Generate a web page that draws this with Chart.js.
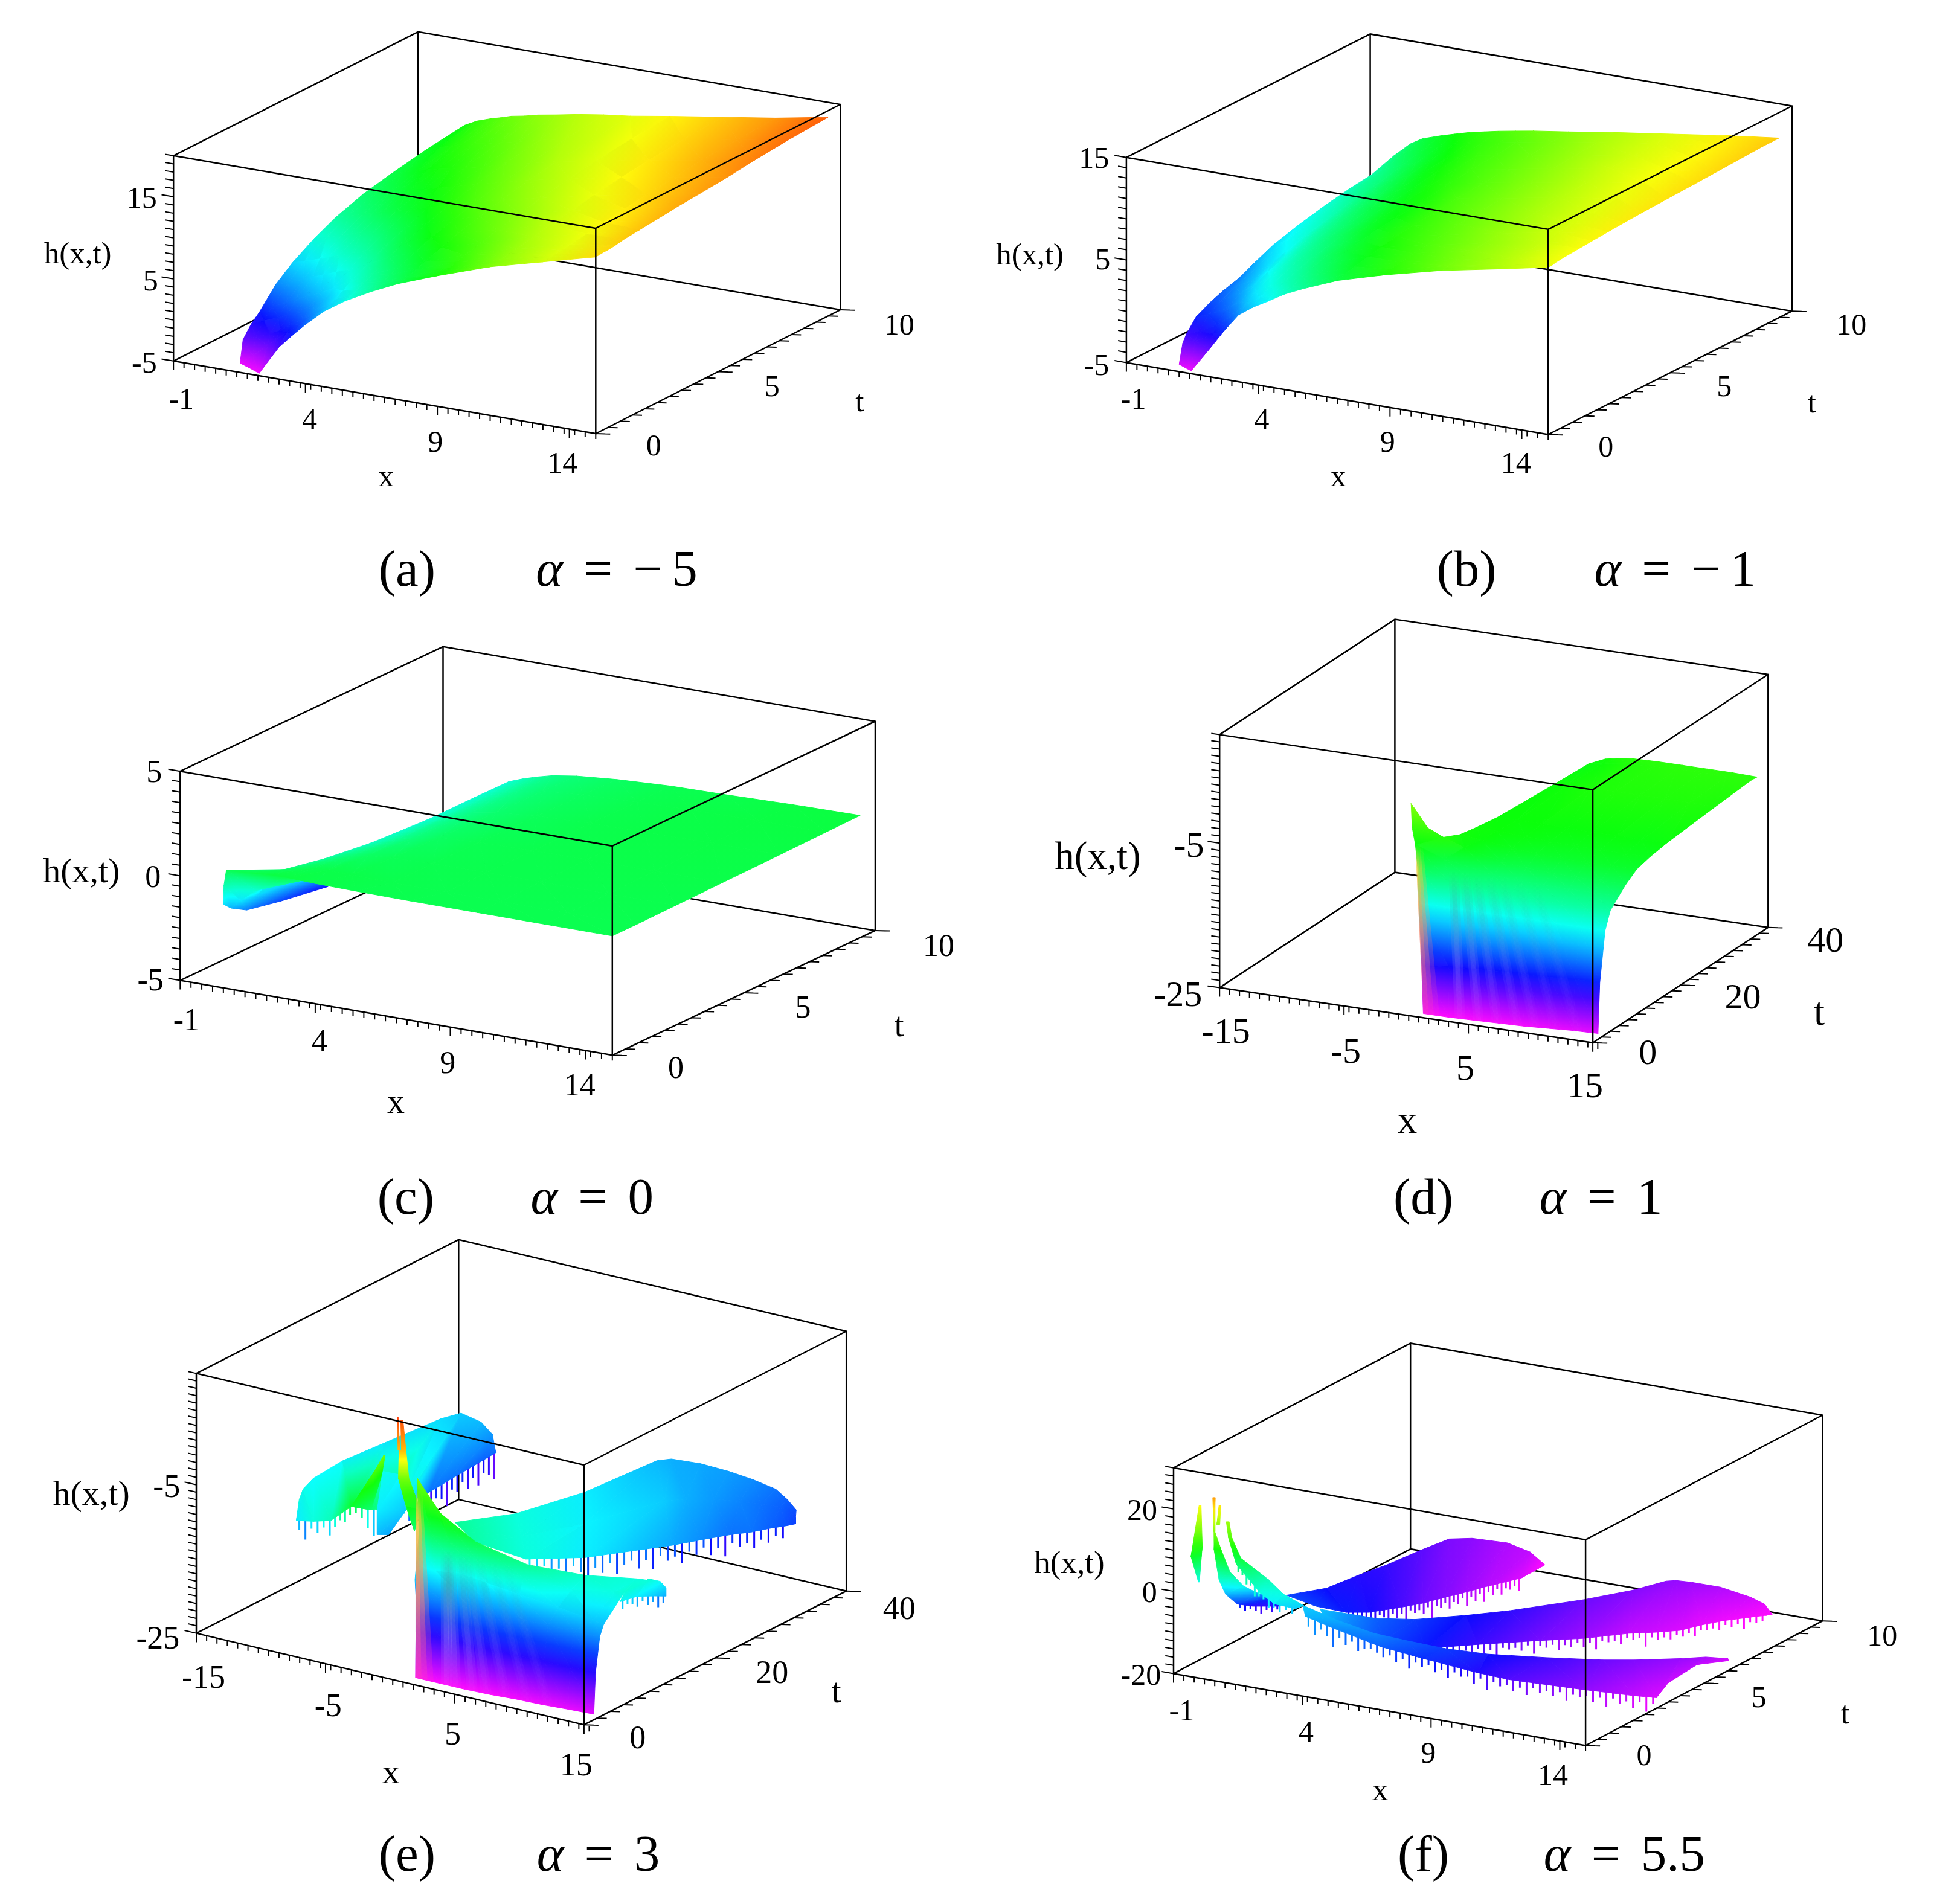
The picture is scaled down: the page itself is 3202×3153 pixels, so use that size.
<!DOCTYPE html>
<html>
<head>
<meta charset="utf-8">
<title>h(x,t) surfaces</title>
<script src="https://cdn.jsdelivr.net/npm/chart.js@4/dist/chart.umd.min.js"></script>
<style>
  html, body { margin: 0; padding: 0; background: #fff; width: 3202px; height: 3153px; overflow: hidden; }
  canvas { position: absolute; }
  .lbl { position: absolute; transform: translate(-50%, -50%); font-family: "Liberation Serif", serif; color: #000; white-space: nowrap; line-height: 1; }
  .cap { font-size: 85px; word-spacing: 13px; }
  .minus { margin-right: 16px; }
</style>
</head>
<body>
<script>
// axis ticks
const xTicksShort = [-1, 4, 9, 14];
const xTicksWide = [-15, -5, 5, 15];
const tTicksShort = [0, 5, 10];
const tTicksLong = [0, 20, 40];
const hTicksA = [-5, 5, 15];
const hTicksB = [-5, 5, 15];
const hTicksC = [-5, 0, 5];
const hTicksD = [-25, -5];
const hTicksE = [-25, -5];
const hTicksF = [-20, 0, 20];

// (a) alpha = -5
const aX = [1.22, 1.7, 2.25, 2.6, 3, 3.5, 4, 4.7, 5.5, 6.5, 7.5, 9, 11, 13, 15];
const aT = [[0.33, 0.16, 0, 0, 0, 0, 0, 0, 0, 0, 0, 0, 0, 0, 0], 0.33, 0.45, 0.78, 1.12, 1.79, 2.46, 3.36, 4.25, 5.37, 6.49, 7.94, 9.5];
const aH = [
  [-4.5, -4.54, -4.7, -3, -1.1, 0.6, 2.2, 4.2, 5.9, 7.6, 9.1, 10.9, 13.1, 14.8, 16.5],
  [-4.5, -3.4, -1.8, -0.8, 0.2, 1.5, 2.9, 4.6, 6.3, 7.95, 9.3, 11, 13.2, 14.9, 16.6],
  [-1.84, -1.2, -0.6, 0, 0.9, 2, 3.3, 4.9, 6.5, 8.1, 9.4, 11.1, 13.3, 15, 16.6],
  [-0.47, 0.2, 0.9, 1.4, 2.1, 3, 4, 5.5, 7, 8.5, 9.7, 11.4, 13.5, 15.1, 16.7],
  [0.5, 1.4, 2.2, 2.8, 3.4, 4.1, 4.9, 6.2, 7.5, 8.9, 10.1, 11.7, 13.7, 15.2, 16.9],
  [2.85, 3.4, 4, 4.5, 5, 5.6, 6.2, 7.2, 8.5, 9.7, 10.8, 12.2, 14.1, 15.5, 17.1],
  [4.45, 4.95, 5.5, 5.9, 6.4, 6.9, 7.4, 8.3, 9.4, 10.5, 11.5, 12.8, 14.5, 15.9, 17.3],
  [6.08, 6.55, 7, 7.4, 7.8, 8.2, 8.7, 9.4, 10.3, 11.3, 12.2, 13.4, 14.9, 16.2, 17.6],
  [7.35, 7.8, 8.3, 8.6, 9, 9.4, 9.8, 10.4, 11.2, 12.1, 12.9, 14, 15.4, 16.6, 17.8],
  [8.47, 8.9, 9.3, 9.6, 10, 10.3, 10.7, 11.3, 12, 12.8, 13.6, 14.6, 15.9, 17, 18.1],
  [9.2, 9.7, 10.2, 10.5, 10.8, 11.1, 11.5, 12, 12.7, 13.4, 14.2, 15.1, 16.3, 17.4, 18.5],
  [10, 10.5, 11.1, 11.4, 11.7, 12, 12.4, 12.9, 13.5, 14.2, 14.7, 15.6, 16.7, 17.7, 18.9],
  [10.6, 11.4, 12, 12.3, 12.7, 13, 13.4, 13.8, 14.3, 14.8, 15.2, 16, 17, 18, 19.2],
];

// (b) alpha = -1
const bX = [1, 1.46, 2.16, 2.7, 3.25, 3.8, 4.35, 5, 5.67, 7, 8.74, 10.93, 13.1, 15];
const bT = [0, 0.15, 0.3, 0.7, 1.26, 1.8, 2.44, 3.1, 3.86, 4.9, 6, 6.95, 7.9, 8.8, 9.48];
const bH = [
  [-4.3, -4.73, -2.27, -0.3, 1.5, 2.5, 3.3, 4.3, 5.1, 6.5, 7.8, 9.2, 10.3, 11.3],
  [-2.4, -2, -1, 0.2, 1.8, 2.8, 3.6, 4.5, 5.2, 6.6, 7.9, 9.2, 10.3, 11.3],
  [-1.7, -1.3, -0.3, 0.8, 2.2, 3.1, 3.8, 4.7, 5.4, 6.7, 8, 9.3, 10.4, 11.4],
  [-0.5, -0.1, 0.8, 1.8, 2.9, 3.7, 4.4, 5.1, 5.8, 7, 8.2, 9.4, 10.5, 11.5],
  [0.2, 0.7, 1.7, 2.7, 3.6, 4.3, 4.9, 5.6, 6.2, 7.3, 8.4, 9.6, 10.6, 11.6],
  [0.7, 1.3, 2.3, 3.3, 4.1, 4.8, 5.3, 6, 6.6, 7.6, 8.6, 9.7, 10.7, 11.7],
  [1.15, 1.9, 2.9, 3.8, 4.6, 5.2, 5.7, 6.3, 6.9, 7.9, 8.8, 9.9, 10.9, 11.8],
  [1.9, 2.6, 3.4, 4.3, 5, 5.6, 6.1, 6.7, 7.2, 8.1, 9, 10, 11, 11.9],
  [2.7, 3.3, 4, 4.8, 5.4, 5.9, 6.4, 7, 7.4, 8.3, 9.2, 10.2, 11.1, 12],
  [3.4, 3.9, 4.6, 5.3, 5.9, 6.4, 6.8, 7.3, 7.7, 8.6, 9.4, 10.4, 11.3, 12.1],
  [4, 4.5, 5.2, 5.8, 6.3, 6.8, 7.2, 7.7, 8.1, 8.8, 9.6, 10.6, 11.5, 12.2],
  [4.4, 5, 5.6, 6.2, 6.7, 7.2, 7.6, 8, 8.4, 9, 9.8, 10.8, 11.6, 12.3],
  [4.7, 5.4, 6.1, 6.6, 7.1, 7.5, 7.9, 8.3, 8.6, 9.2, 10, 10.9, 11.7, 12.4],
  [5.44, 6.1, 6.7, 7.1, 7.5, 7.9, 8.2, 8.5, 8.8, 9.4, 10.2, 11, 11.8, 12.5],
  [5.8, 6.5, 7.1, 7.5, 7.9, 8.2, 8.5, 8.8, 9.1, 9.6, 10.3, 11.1, 11.9, 12.5],
];

// (c) alpha = 0
const cRest = [2, 2.5, 3, 3.6, 4.5, 6, 8, 10, 12.5, 15];
const cX = [[0.71, 1.5, 2.3, 3, 4, 5.5, 7.5, 10, 12.5, 15], cRest, cRest, cRest, cRest, cRest, cRest];
const cT = [0, 0.88, 2.42, 4.18, 6.37, 8.13, 9.43];
const cH = [
  [0.65, 0.71, 0.8, 0.8, 0.75, 0.72, 0.7, 0.7, 0.7, 0.7],
  [0.45, 0.6, 0.7, 0.75, 0.75, 0.72, 0.7, 0.7, 0.7, 0.7],
  [0.05, 0.25, 0.4, 0.55, 0.65, 0.7, 0.72, 0.72, 0.72, 0.72],
  [-0.25, -0.05, 0.15, 0.35, 0.55, 0.68, 0.72, 0.74, 0.75, 0.75],
  [-0.42, -0.2, 0.05, 0.25, 0.45, 0.62, 0.72, 0.76, 0.78, 0.78],
  [-0.42, -0.2, 0, 0.22, 0.42, 0.58, 0.7, 0.76, 0.8, 0.82],
  [-0.44, -0.2, 0, 0.2, 0.38, 0.55, 0.68, 0.72, 0.8, 0.84],
];
const cLobeX = [[0.6, 0.62, 0.71, 3], [0.49, 0.86, 1.4, 3.2], [0.49, 0.8, 1.24, 2.6], [0.31, 0.63, 1.05, 1.8], [0.27, 0.38, 0.5, 0.8]];
const cLobeT = [0, 0.4, 1, 2.5, 4.3];
const cLobeH = [[-1, -0.1, 0.65, 0.9], [-1.45, -1, -0.4, 0.5], [-1.9, -1.2, -0.5, 0], [-2.4, -1.8, -1.3, -0.8], [-2.8, -2.7, -2.6, -2.4]];

// (d) alpha = 1
const dTail = [5, 7, 9, 11, 13, 15];
const dX = [[0.95, 3], [0.69, 2.8], [0.05, 2.5], [-0.5, 2], [-1.34, 1], [0.34, 2], [0.8, 2.5], [1.1, 2.7], [1.4, 3], [1.8, 3], [1.9, 3], [2.8, 4]].map((r) => r.concat(dTail));
const dT = [1.2, 1.6, 2.8, 4, 5.9, 7.53, 10, 13, 16.9, 27.9, 36.2, 37.5];
const dH = [
  [-25, -25, -24.9, -24.8, -24.7, -24.5, -24.3, -24.2],
  [-18.6, -18.2, -18, -17.8, -17.7, -17.6, -17.4, -17.3],
  [-10.6, -10.6, -10.6, -10.6, -10.6, -10.6, -10.6, -10.6],
  [-6, -7.5, -8.2, -8.3, -8.4, -8.4, -8.4, -8.3],
  [-4.1, -5.5, -6.7, -7, -7.1, -7.1, -7.1, -7.1],
  [-3.3, -4.3, -5.5, -5.9, -6, -6.1, -6.1, -6.1],
  [-3.8, -4.1, -4.6, -4.9, -5, -5, -5, -5],
  [-3.9, -4, -4.2, -4.4, -4.5, -4.5, -4.5, -4.5],
  [-4, -4, -4, -4.1, -4.1, -4.1, -4.2, -4.1],
  [-4, -3.8, -3.5, -3.4, -3.4, -3.4, -3.4, -3.5],
  [-4.2, -3.9, -3.4, -3.2, -3.1, -3.1, -3.1, -3.1],
  [-3.8, -3.4, -3.2, -3.1, -3.1, -3.1, -3.1, -3.2],
];
const dSpikeX = [[-1.34, 0.34], [-2.34, -1.1], [-3.13, -3.13]];
const dSpikeT = [[5.9, 7.53], [8, 7.95], [10, 10]];
const dSpikeH = [[-4.1, -3.3], [-2.8, -2.5], [-0.5, -0.5]];
const dStreakBottom = [3.9, 5.4, 6.9, 8.5, 10, 11.7, 13.5];
const dStreakTop = [1.7, 2.6, 3.5, 4.6, 5.6, 6.9, 8.2];
const dStreakAlpha = [0.3, 0.24, 0.18, 0.15, 0.12, 0.09, 0.07];

// (e) alpha = 3
const eWallX = [
  [1.2, 3, 5, 7, 9, 11, 13, 15],
  [1.1, 3, 5, 7, 9, 11, 13, 15],
  [0.77, 3, 5, 7, 9, 11, 13, 15],
  [0.4, 2, 4, 6, 8.5, 11.5, 14.2, 15],
  [0, 1.4, 2.9, 5.2, 8.5, 11.5, 14.2, 15],
  [-0.7, 0.6, 2.07, 4.9, 8.5, 11.5, 14.2, 15],
];
const eWallT = [1.5, 1.76, 2.4, 3, [4.4, 3.5, 3.3, 3.2, 3.6, 5, 6.2, 6.3], [5.5, 4.7, 3.64, 3.34, 4.2, 7.1, 9.65, 9.9]];
const eWallH = [
  [-25, -25, -25, -24.9, -24.7, -24.6, -24.4, -24.25],
  [-19, -19, -19, -19, -18.9, -18.9, -18.8, -18.7],
  [-14.5, -14.5, -14.5, -14.5, -14.4, -14.3, -14.3, -14.2],
  [-12.8, -11, -10.5, -11, -11.5, -12, -12.6, -12.8],
  [-7.5, -6.5, -6.8, -8.5, -9.5, -10.5, -10.2, -9.8],
  [-0.7, -2.2, -3.5, -6, -8, -9.5, -10, -10],
];
const eTailX = [[15, 15, 15, 15], [15, 15, 15, 15]];
const eTailT = [[5.5, 8.1, 10.75, 12.5], [6.3, 9.9, 11.6, 12.5]];
const eTailH = [[-10.9, -11.35, -12.5, -13.3], [-9.8, -9.8, -10.9, -12.15]];
const eTailTeeth = [1.1, 0.6, 0.9, 1.4, 0.7, 1.2, 0.8, 1.5, 0.9];
const eMidX = [
  [0.27, 1.05, 1.3, 0.7, 1.06, 2.94, 4.96, 6.7, 8.4, 9.7, 10.87],
  [1.6, 3.7, 4.7, 5.7, 6, 7, 8.2, 9.13, 10.14, 10.77, 11.28],
  [2.9, 6.3, 8.1, 9.9, 10.3, 10.7, 11.57, 11.75, 12, 11.9, 11.9],
];
const eMidT = [
  [9.36, 17.1, 27, 39.3, 40.8, 41.55, 41.8, 42.05, 42.25, 41.45, 40.5],
  [8.2, 12.7, 20.4, 30.6, 33.3, 35.6, 37.2, 38.55, 39.55, 39.9, 39.6],
  [7.1, 8.3, 13.75, 23.5, 27, 30.7, 32.3, 34.65, 36.8, 38.4, 38.4],
];
const eMidH = [
  [-8, -10, -11.5, -13, -13.3, -13.5, -13.8, -14.3, -15, -15.5, -16],
  [-8.2, -10, -11.3, -12.5, -13.3, -13.9, -14.5, -15, -15.5, -16, -16.4],
  [-8.5, -10, -11.5, -13.5, -14.2, -15, -15, -15.5, -16, -16.5, -16.5],
];
const eMidTeeth = [0.8, 1.5, 1, 2.2, 1.4, 2.6, 1.1, 2, 3, 1.6, 2.4, 1.2, 2.8, 1.7, 1.3, 2.5, 1.5, 2.9, 1.2, 2, 1.6, 2.7, 1.3, 1.9, 1.1, 2.3, 1.5, 2.8, 1.2, 1.8, 1.4, 2.2, 1.3, 1.9, 1.1, 1.6];
const eBackX = [[-11.88, -13.15, -14.1, -14.37, -14.4, -14.3, -14.2, -12.6, -11.5, -10.46], [-11, -8.85, -7.25, -4.55, -4.67, -5.81, -9.6, -9.83, -10.45, -10.58]];
const eBackT = [[9.54, 12.65, 16.07, 21.06, 27.4, 35.96, 38.8, 38.7, 38.26, 36.66], [7.36, 5.78, 5.25, 3.03, 6.32, 12.98, 24.84, 28.8, 34.63, 37.1]];
const eBackH = [[-10, -10.5, -11, -11, -11.5, -12, -12.5, -13, -14, -15], [-11.5, -10, -9, -5, -7, -10, -15, -15, -15.5, -15.5]];
const eBackTeeth = [1.2, 2.5, 1, 1.6, 0.9, 2, 1.2, 0.8, 1.5, 1, 0.8, 1.3, 2.5, 3.5, 2.8, 3.6, 2.4, 1.5, 1.2, 2.5, 1.4, 2, 1.6, 3, 1.4, 1.9, 3.3, 1.5, 2.2, 1.3, 2.6, 1.6, 3, 1.8, 2.4, 3.4];
const eCuspX = [[-10.76, -9.86], [-7.82, -7.06], [-6.42, -6.19]];
const eCuspT = [[20.1, 20.97], [13.43, 16.34], [10.67, 11.98]];
const eCuspH = [[-10.5, -11], [-11.5, -12.5], [-13, -13.5]];
const eInnerX = [[-4.55, -4.67], [-4.82, -5.45], [-5.05, -4.97]];
const eInnerT = [[3.03, 6.32], [7.09, 9.46], [8.95, 9.03]];
const eInnerH = [[-5, -7], [-2.2, -4], [-1, -1]];
const eSpikeX = [[-0.19, -0.19], [-0.88, -0.52], [-1.9, -1.34], [-0.16, 0.2]];
const eSpikeT = [[4.09, 4.09], [4.16, 5.66], [5, 5.5], [1.68, 2.01]];
const eSpikeH = [[-7, -7], [-4, -5], [-1, -1], [5, 5]];
const eProngLeftX = [[-0.22, -0.13], [-0.95, -0.9]];
const eProngLeftT = [[1.62, 1.71], [2.98, 3.03]];
const eProngLeftH = [[5, 5], [8.5, 8.5]];
const eProngRightX = [[-0.04, 0.2], [-0.87, -0.75]];
const eProngRightT = [[1.79, 2.01], [3.33, 3.44]];
const eProngRightH = [[5, 5], [8, 8]];
const eStreakBottom = [3.6, 4.3, 5.6, 6.7, 8.2, 9.9, 11.6];
const eStreakTop = [2.7, 3, 3.8, 4.3, 5.2, 6.3, 7.3];
const eStreakAlpha = [0.38, 0.32, 0.24, 0.18, 0.14, 0.1, 0.08];

// (f) alpha = 5.5
const fBackX = [[0.8, 1.01, 0.99, 1.08, 0.9, 0.78, 1.27, 2.24, 3.22, 3.8], [2.15, 3.04, 3.47, 3.67, 3.74, 3.83, 3.92, 4, 4.18, 3.8]];
const fBackT = [[2.81, 4.28, 5.65, 6.72, 8.4, 9.7, 10.13, 10.57, 10.46, 10.46], [2.58, 2.9, 3.39, 4.53, 5.38, 6.22, 6.99, 7.83, 9.04, 10.46]];
const fBackH = [[-7.5, -10, -11, -11.7, -13.3, -14.7, -15.3, -16.7, -17.5, -20], [-8, -9.5, -10.5, -12.5, -14, -15, -16, -17, -18.5, -20]];
const fBackTeeth = [1.5, 2.6, 1.2, 1.9, 3.8, 1.4, 2.2, 1.1, 1.8, 2.9, 1.3, 2.4, 1.6, 3.2, 1.2, 2, 1.5, 2.7, 1.3, 4.2, 1.6, 2.3, 1.4, 3, 1.7, 2.5, 1.3, 3.4, 1.6, 2.8, 1.4, 3.6, 1.5, 2.4, 1.3, 2.9, 1.6, 2.2, 1.5, 3];
const fMidX = [[3.71, 4.92, 5.77, 6.58, 7.25, 8.24, 8.91, 9.26, 9.47, 9.92, 10.88, 12.04, 12.62, 13.17], [4.48, 6.17, 7.34, 8.08, 9.12, 9.93, 10.61, 11.23, 11.72, 11.94, 12.25, 12.89, 13.06, 13.17]];
const fMidT = [[1.08, 2.11, 2.83, 4.11, 5.22, 7.29, 8.62, 9.64, 9.83, 9.96, 10.17, 10.18, 10.15, 9.87], [0.51, 1.09, 1.56, 2.97, 4.49, 5.45, 6.59, 7.07, 7.56, 8.25, 8.79, 9.54, 9.71, 9.87]];
const fMidH = [[-2.5, -6.5, -8, -10, -11.5, -14, -15, -15.5, -15.7, -16, -16.8, -18, -19, -20], [-3.5, -7.5, -9.5, -12, -14.5, -16, -17.5, -18, -18.5, -19, -19.3, -19.8, -19.9, -20]];
const fMidTeeth = [1.4, 2.2, 1.1, 1.8, 1.2, 2.6, 1.3, 1.9, 1.1, 2.4, 1.5, 2.9, 1.2, 1.7, 1.4, 2.2, 1, 3.1, 1.3, 1.8, 1.2, 2.5, 1.4, 1.9, 1.1, 2.1, 1.3, 3, 1.2, 1.6, 1.4, 2.3, 1.1, 1.7, 1.3, 3.4, 1.2, 1.8, 1.4, 2, 1.1, 1.7, 1.3, 2.4, 1.2, 1.6, 1.4, 2.1, 1.1, 1.8, 1.3, 2.6, 1.2, 1.5, 1.3];
const fFrontX = [[3.09, 4.59, 6.05, 7.02, 8.25, 9.37, 10.8, 12.13, 12.87, 13.91, 14.4, 14.79], [3.55, 4.45, 6.6, 8.07, 9.87, 10.72, 12.9, 14.23, 14.76, 14.39, 14.34, 14.81]];
const fFrontT = [[1.01, 0.84, 0.81, 1.09, 1.39, 2, 2.9, 3.85, 4.38, 5.2, 5.73, 6.24], [0.62, 0.63, 0.46, 0.68, 1.02, 1.43, 2.23, 2.89, 3.25, 4.16, 5.43, 6.24]];
const fFrontH = [[-2, -3.5, -5, -6.5, -8, -10, -12, -14, -14.8, -15.8, -16.5, -18], [-3, -4.5, -6.5, -8.5, -11, -13, -15.5, -17.5, -18.5, -18, -17.5, -18.5]];
const fFrontTeeth = [2.2, 3.5, 1.6, 2.6, 4.6, 1.8, 2.9, 1.5, 3.2, 2, 1.4, 1.8, 2.4, 1.5, 2.8, 1.6, 3.4, 1.5, 2.2, 1.3, 2.6, 1.7, 3.1, 1.4, 2, 1.6, 2.9, 1.3, 3.6, 1.5, 2.1, 1.4, 2.7, 1.6, 3.2, 1.3, 2.2, 1.5, 2.6, 1.4, 3.3, 1.6, 2, 1.4, 2.8, 1.5, 3.5, 1.3, 2.3, 1.6, 3, 1.4, 3.6, 1.5];
const fCurlX = [[0.42, 0.49], [0.3, 0.33], [0.17, 0.49], [0.17, 0.71], [0, 0.86], [-0.26, 0.77], [-0.37, 0.52], [-0.05, 0.52], [0.65, 0.98]];
const fCurlT = [[0.11, 0.135], [0.29, 0.3], [0.44, 0.39], [0.65, 0.52], [1.11, 0.93], [1.88, 1.72], [2.66, 2.38], [2.94, 2.38], [2.7, 2.49]];
const fCurlH = [[24, 24], [15, 15], [10, 10.5], [2, 5], [-3, 0.5], [-8, -4], [-11, -6.5], [-11.5, -6.5], [-10, -7]];
const fCurlTeeth = [0.8, 1.4, 0.7, 1.1, 1.8, 0.9, 1.5, 0.8];
const fFragX = [[-0.45, -0.39], [-0.36, -0.17], [-0.56, -0.53]];
const fFragT = [[0.48, 0.5], [0.04, 0.31], [0.57, 0.58]];
const fFragH = [[20, 20], [9, 11], [1, 1]];
const fRibbonX = [[0.33, 0.41], [0.61, 0.71], [0.7, 0.95], [1.88, 1.8], [2.54, 2.6], [3.06, 3.25]];
const fRibbonT = [[0.78, 0.81], [0.57, 0.605], [0.8, 0.72], [0.54, 0.96], [0.42, 0.73], [0.73, 0.88]];
const fRibbonH = [[16, 16], [13, 13], [6, 8], [1, 3], [-0.5, 1], [-2, -1.5]];
const fRibbonTeeth = [1.4, 0.8, 1.9, 1, 2.4, 1.2, 0.9, 2, 1.1, 1.6, 0.8, 1.4];
const fSliverX = [[0.36, 0.41], [0.09, 0.18]];
const fSliverT = [[0.44, 0.46], [0.64, 0.67]];
const fSliverH = [[21, 21], [15.5, 15.5]];

// captions
const captionTags = ["(a)", "(b)", "(c)", "(d)", "(e)", "(f)"];
const captionAlpha = ["−5", "−1", "0", "1", "3", "5.5"];

// layout below, in page pixels
const SHRINK = 3202 / 1568;
const captionTagPos = [[330, 461], [1189, 461], [329, 970], [1154, 970], [330, 1503], [1154, 1503]];
const captionAlphaPos = [[500, 461], [1358, 461], [480, 970], [1298, 970], [485, 1503], [1317, 1503]];

const panels = [
  {
    frame: [40, 20, 1500, 800], o: [287.2, 597.8], vx: [699.1, 120.2], vt: [405, -205], vh: [0, -340],
    xr: [-1, 15], tr: [0, 10], hr: [-5, 20], hue: [-5, 21], xStep: 0.4, tStep: 0.5, hStep: 1,
    xTicks: xTicksShort, tTicks: tTicksShort, hTicks: hTicksA, fs: 50, hfs: 51,
    xPos: [[147, 323], [251, 340], [353, 358], [456, 375]], tPos: [[530, 361], [626, 313], [729, 263]], hPos: [[117, 294], [122, 227], [115, 160]],
    hName: [63, 205], xName: [313, 386], tName: [697, 325],
    build(l, p) { addMesh(l, p, aX, aT, aH); },
  },
  {
    frame: [1620, 20, 1540, 800], o: [1864.9, 600.4], vx: [698.3, 119.1], vt: [403.7, -204.3], vh: [0, -339.7],
    xr: [-1, 15], tr: [0, 10], hr: [-5, 15], hue: [-5, 15.8], xStep: 0.4, tStep: 0.5, hStep: 1,
    xTicks: xTicksShort, tTicks: tTicksShort, hTicks: hTicksB, fs: 50, hfs: 51,
    xPos: [[919, 323], [1023, 340], [1125, 358], [1229, 375]], tPos: [[1302, 362], [1398, 313], [1501, 263]], hPos: [[889, 296], [894, 210], [887, 128]],
    hName: [835, 206], xName: [1085, 386], tName: [1469, 326],
    build(l, p) { addMesh(l, p, bX, bT, bH); },
  },
  {
    frame: [40, 1040, 1500, 800], o: [298.3, 1623.6], vx: [715.5, 123.7], vt: [435.2, -206.4], vh: [0, -346.4],
    xr: [-1, 15], tr: [0, 10], hr: [-5, 5], hue: [-5, 5.5], xStep: 0.4, tStep: 0.5, hStep: 0.5,
    xTicks: xTicksShort, tTicks: tTicksShort, hTicks: hTicksC, fs: 52, hfs: 58,
    xPos: [[151, 827], [259, 844], [363, 862], [470, 880]], tPos: [[548, 866], [651, 817], [761, 767]], hPos: [[122, 795], [124, 711], [125, 626]],
    hName: [66, 706], xName: [321, 893], tName: [729, 831],
    build(l, p) { addMesh(l, p, cLobeX, cLobeT, cLobeH); addMesh(l, p, cX, cT, cH); },
  },
  {
    frame: [1900, 1000, 1150, 800], o: [2019.2, 1635.6], vx: [617.9, 91.2], vt: [290.2, -191], vh: [0, -419],
    xr: [-15, 15], tr: [0, 40], hr: [-25, 10], hue: [-25, 10], xStep: 0.8, tStep: 2, hStep: 1,
    xTicks: xTicksWide, tTicks: tTicksLong, hTicks: hTicksD, fs: 60, hfs: 65,
    xPos: [[994, 836], [1091, 852], [1188, 866], [1285, 880]], tPos: [[1336, 853], [1413, 808], [1480, 762]], hPos: [[955, 806], [964, 685]],
    hName: [890, 694], xName: [1141, 908], tName: [1475, 820],
    build(l, p) {
      addMesh(l, p, dX, dT, dH);
      addMesh(l, p, dSpikeX, dSpikeT, dSpikeH);
      addBand(l, p, 0.95, 1.3, 1.2, -25, -1.34, 0.6, 5.9, -4.1, 0.75);
      addStreaks(l, p, dStreakBottom, dStreakTop, dStreakAlpha, 1.2, -25, 6, -7);
    },
  },
  {
    frame: [60, 2030, 1400, 860], o: [325, 2704.6], vx: [641.9, 151.6], vt: [434.3, -221.5], vh: [0, -430.2],
    xr: [-15, 15], tr: [0, 40], hr: [-25, 10], hue: [-25, 10], xStep: 0.8, tStep: 2, hStep: 1,
    xTicks: xTicksWide, tTicks: tTicksLong, hTicks: hTicksE, fs: 54, hfs: 58,
    xPos: [[165, 1360], [266, 1383], [367, 1406], [467, 1431]], tPos: [[517, 1409], [626, 1356], [729, 1304]], hPos: [[128, 1328], [135, 1205]],
    hName: [74, 1211], xName: [317, 1437], tName: [678, 1371],
    build(l, p) {
      addTeeth(l, p, eBackX[1], eBackT[1], eBackH[1], eBackTeeth, 1.5);
      addMesh(l, p, eBackX, eBackT, eBackH);
      addMesh(l, p, eCuspX, eCuspT, eCuspH);
      addMesh(l, p, eInnerX, eInnerT, eInnerH);
      addTeeth(l, p, eMidX[2].slice(1, 9), eMidT[2].slice(1, 9), eMidH[2].slice(1, 9), eMidTeeth, 1.5);
      addMesh(l, p, eMidX, eMidT, eMidH);
      addMesh(l, p, eProngLeftX, eProngLeftT, eProngLeftH);
      addMesh(l, p, eProngRightX, eProngRightT, eProngRightH);
      addMesh(l, p, eSpikeX, eSpikeT, eSpikeH);
      addTeeth(l, p, eTailX[0], eTailT[0], eTailH[0], eTailTeeth, 1.5);
      addMesh(l, p, eTailX, eTailT, eTailH);
      addMesh(l, p, eWallX, eWallT, eWallH);
      addBand(l, p, 1.2, 1.4, 1.5, -25, -0.55, 0.5, 5, -2, 1);
      addStreaks(l, p, eStreakBottom, eStreakTop, eStreakAlpha, 1.5, -25, 3.2, -8);
    },
  },
  {
    frame: [1850, 2200, 1250, 740], o: [1943, 2771.4], vx: [682.1, 119.1], vt: [392.2, -206.3], vh: [0, -340.7],
    xr: [-1, 15], tr: [0, 10], hr: [-20, 30], hue: [-20, 30], xStep: 0.4, tStep: 0.5, hStep: 2,
    xTicks: xTicksShort, tTicks: tTicksShort, hTicks: hTicksF, fs: 50, hfs: 53,
    xPos: [[958, 1387], [1059, 1404], [1158, 1421], [1259, 1439]], tPos: [[1333, 1423], [1426, 1376], [1526, 1326]], hPos: [[925, 1358], [932, 1291], [926, 1224]],
    hName: [867, 1267], xName: [1119, 1451], tName: [1496, 1389],
    build(l, p) {
      addTeeth(l, p, fBackX[1].slice(1, 9), fBackT[1].slice(1, 9), fBackH[1].slice(1, 9), fBackTeeth, 0.4);
      addMesh(l, p, fBackX, fBackT, fBackH);
      addTeeth(l, p, fMidX[1].slice(2, 13), fMidT[1].slice(2, 13), fMidH[1].slice(2, 13), fMidTeeth, 0.4);
      addMesh(l, p, fMidX, fMidT, fMidH);
      addTeeth(l, p, fFrontX[1].slice(0, 9), fFrontT[1].slice(0, 9), fFrontH[1].slice(0, 9), fFrontTeeth, 0.3);
      addMesh(l, p, fFrontX, fFrontT, fFrontH);
      addMesh(l, p, fFragX, fFragT, fFragH);
      addMesh(l, p, fSliverX, fSliverT, fSliverH);
      addTeeth(l, p, fCurlX.slice(5).map((r) => r[0]), fCurlT.slice(5).map((r) => r[0]), fCurlH.slice(5).map((r) => r[0]), fCurlTeeth, 0.5);
      addMesh(l, p, fCurlX, fCurlT, fCurlH);
      addTeeth(l, p, fRibbonX.slice(2).map((r) => r[0]), fRibbonT.slice(2).map((r) => r[0]), fRibbonH.slice(2).map((r) => r[0]), fRibbonTeeth, 0.3);
      addMesh(l, p, fRibbonX, fRibbonT, fRibbonH);
    },
  },
];

function project(p, x, t, h) {
  const u = (x - p.xr[0]) / (p.xr[1] - p.xr[0]);
  const v = (t - p.tr[0]) / (p.tr[1] - p.tr[0]);
  const w = (h - p.hr[0]) / (p.hr[1] - p.hr[0]);
  return {
    x: p.o[0] + u * p.vx[0] + v * p.vt[0] + w * p.vh[0],
    y: p.o[1] + u * p.vx[1] + v * p.vt[1] + w * p.vh[1],
  };
}

function hueOf(p, h) {
  const f = Math.min(1, Math.max(0, (h - p.hue[0]) / (p.hue[1] - p.hue[0])));
  return 300 * (1 - f);
}

function hsl(hue) {
  return "hsl(" + hue.toFixed(1) + ",100%,52%)";
}

// shaded triangle: colour follows h, gradient laid along the steepest direction on screen
function triangle(l, p, a, b, c) {
  const ctx = p.ctx;
  const left = p.frame[0];
  const top = p.frame[1];
  const pts = [a, b, c].map((v) => ({ ...project(p, v.x, v.t, v.h), h: v.h }));
  const d1x = pts[1].x - pts[0].x, d1y = pts[1].y - pts[0].y, d1h = pts[1].h - pts[0].h;
  const d2x = pts[2].x - pts[0].x, d2y = pts[2].y - pts[0].y, d2h = pts[2].h - pts[0].h;
  const det = d1x * d2y - d1y * d2x;
  const hs = pts.map((q) => q.h);
  const lo = Math.min(...hs), hi = Math.max(...hs);
  let paint = hsl(hueOf(p, (lo + hi) / 2));
  if (Math.abs(det) > 0.5 && hi - lo > 1e-6) {
    const gx = (d1h * d2y - d2h * d1y) / det;
    const gy = (d1x * d2h - d2x * d1h) / det;
    const g2 = gx * gx + gy * gy;
    const sx = pts[0].x + (gx * (lo - pts[0].h)) / g2, sy = pts[0].y + (gy * (lo - pts[0].h)) / g2;
    const ex = pts[0].x + (gx * (hi - pts[0].h)) / g2, ey = pts[0].y + (gy * (hi - pts[0].h)) / g2;
    const grad = ctx.createLinearGradient(sx - left, sy - top, ex - left, ey - top);
    const n = Math.max(2, Math.ceil(Math.abs(hueOf(p, lo) - hueOf(p, hi)) / 20) + 1);
    for (let i = 0; i < n; i++) {
      const f = i / (n - 1);
      grad.addColorStop(f, hsl(hueOf(p, lo + (hi - lo) * f)));
    }
    paint = grad;
  }
  l.push({
    data: [pts[0], pts[1], pts[2], pts[0]].map((q) => ({ x: q.x, y: q.y })),
    showLine: true, fill: "shape", backgroundColor: paint, borderColor: paint, borderWidth: 1, pointRadius: 0,
  });
}

function addMesh(l, p, xs, ts, hs) {
  const vert = (r, c) => {
    const h = hs[r][c];
    if (h === null) return null;
    return {
      x: Array.isArray(xs[r]) ? xs[r][c] : xs[c],
      t: Array.isArray(ts[r]) ? ts[r][c] : ts[r],
      h,
    };
  };
  for (let r = hs.length - 2; r >= 0; r--) {
    for (let c = 0; c < hs[r].length - 1; c++) {
      const v = [vert(r + 1, c), vert(r + 1, c + 1), vert(r, c + 1), vert(r, c)].filter(Boolean);
      if (v.length >= 3) triangle(l, p, v[0], v[1], v[2]);
      if (v.length === 4) triangle(l, p, v[0], v[2], v[3]);
    }
  }
}

// the torn fringe under a sheet: thin drops spaced along its lower edge
function addTeeth(l, p, xs, ts, hs, depths, hueDrop) {
  const px = xs.map((x, i) => project(p, x, ts[i], hs[i]));
  const cum = [0];
  for (let i = 1; i < px.length; i++) cum.push(cum[i - 1] + Math.hypot(px[i].x - px[i - 1].x, px[i].y - px[i - 1].y));
  const total = cum[cum.length - 1];
  depths.forEach((d, k) => {
    const s = ((k + 0.5) / depths.length) * total;
    let i = 1;
    while (i < cum.length - 1 && cum[i] < s) i++;
    const f = (s - cum[i - 1]) / (cum[i] - cum[i - 1] || 1);
    const x = xs[i - 1] + (xs[i] - xs[i - 1]) * f;
    const t = ts[i - 1] + (ts[i] - ts[i - 1]) * f;
    const h = hs[i - 1] + (hs[i] - hs[i - 1]) * f;
    l.push({
      data: [project(p, x, t, h + 0.5), project(p, x, t, h - d)],
      showLine: true, fill: false, borderColor: hsl(hueOf(p, h - d * hueDrop)), borderWidth: 3, pointRadius: 0,
    });
  });
}

function wash(l, p, a, b, c, d, stops) {
  const left = p.frame[0], top = p.frame[1];
  const grad = p.ctx.createLinearGradient((a.x + b.x) / 2 - left, (a.y + b.y) / 2 - top, (c.x + d.x) / 2 - left, (c.y + d.y) / 2 - top);
  stops.forEach((s) => grad.addColorStop(s[0], s[1]));
  l.push({
    data: [a, b, c, d, a],
    showLine: true, fill: "shape", backgroundColor: grad, borderColor: "rgba(0,0,0,0)", borderWidth: 0, pointRadius: 0,
  });
}

// warm band along the left side of the wall, soft towards the right
function addBand(l, p, xb, wb, tLow, hLow, xt, wt, tHigh, hHigh, alpha) {
  [[1, 0.35], [0.66, 0.55], [0.33, 0.6]].forEach(([w, share]) => {
    const al = alpha * share;
    wash(l, p,
      project(p, xb, tLow, hLow), project(p, xb + wb * w, tLow, hLow),
      project(p, xt + wt * w, tHigh, hHigh), project(p, xt, tHigh, hHigh),
      [[0, "rgba(255,60,190," + al * 0.5 + ")"], [0.5, "rgba(240,140,110," + al + ")"], [0.85, "rgba(235,205,60," + al + ")"], [1, "rgba(235,205,60,0)"]]);
  });
}

// pale lavender low on the wall, dull teal higher up
function addStreaks(l, p, bottoms, tops, alphas, tLow, hLow, tHigh, hHigh) {
  bottoms.forEach((xb, i) => {
    [0.42, 0.2].forEach((half) => {
      const al = alphas[i] / 2;
      wash(l, p,
        project(p, xb - half, tLow, hLow), project(p, xb + half, tLow, hLow),
        project(p, tops[i] + half, tHigh, hHigh), project(p, tops[i] - half, tHigh, hHigh),
        [[0, "rgba(215,150,235," + al * 0.3 + ")"], [0.35, "rgba(200,170,240," + al + ")"], [0.75, "rgba(90,140,135," + al + ")"], [1, "rgba(90,140,135,0)"]]);
    });
  });
}

function edges(p, list) {
  const data = [];
  list.forEach((seg) => {
    seg.forEach((c) => data.push(project(p, c[0], c[1], c[2])));
    data.push({ x: NaN, y: NaN });
  });
  return { data, showLine: true, fill: false, borderColor: "#000", borderWidth: 2.5, pointRadius: 0 };
}

// minor tick marks run the whole axis, labelled ticks get a longer mark
function tickMarks(p, axis, ticks, step, dir, minorLen, majorLen) {
  const data = [];
  const range = p[axis + "r"];
  const place = (val) => {
    if (axis === "x") return project(p, val, p.tr[0], p.hr[0]);
    if (axis === "t") return project(p, p.xr[1], val, p.hr[0]);
    return project(p, p.xr[0], p.tr[0], val);
  };
  const n = Math.round((range[1] - range[0]) / step);
  for (let i = 0; i <= n; i++) {
    const val = range[0] + i * step;
    const q = place(val);
    data.push(q, { x: q.x + dir[0] * minorLen, y: q.y + dir[1] * minorLen }, { x: NaN, y: NaN });
  }
  ticks.forEach((val) => {
    const q = place(val);
    data.push(q, { x: q.x + dir[0] * majorLen, y: q.y + dir[1] * majorLen }, { x: NaN, y: NaN });
  });
  return { data, showLine: true, fill: false, borderColor: "#000", borderWidth: 2, pointRadius: 0 };
}

function addLabel(text, pos, size, extra) {
  const el = document.createElement("div");
  el.className = "lbl" + (extra ? " " + extra : "");
  el.textContent = text;
  el.style.left = pos[0] * SHRINK + "px";
  el.style.top = pos[1] * SHRINK + "px";
  if (size) el.style.fontSize = size + "px";
  document.body.appendChild(el);
  return el;
}

panels.forEach((p) => {
  const [left, top, w, h] = p.frame;
  const canvas = document.createElement("canvas");
  canvas.width = w;
  canvas.height = h;
  canvas.style.left = left + "px";
  canvas.style.top = top + "px";
  document.body.appendChild(canvas);
  p.ctx = canvas.getContext("2d");

  const x0 = p.xr[0], x1 = p.xr[1], t0 = p.tr[0], t1 = p.tr[1], h0 = p.hr[0], h1 = p.hr[1];
  const paint = [];
  paint.push(edges(p, [
    [[x0, t1, h1], [x0, t1, h0], [x1, t1, h0]],
    [[x0, t1, h0], [x0, t0, h0]],
  ]));
  p.build(paint, p);
  paint.push(edges(p, [
    [[x0, t0, h0], [x0, t0, h1], [x1, t0, h1], [x1, t0, h0], [x0, t0, h0]],
    [[x1, t0, h0], [x1, t1, h0], [x1, t1, h1], [x0, t1, h1], [x0, t0, h1]],
    [[x1, t0, h1], [x1, t1, h1]],
  ]));
  const vxLen = Math.hypot(p.vx[0], p.vx[1]);
  paint.push(tickMarks(p, "x", p.xTicks, p.xStep, [0, 1], 9, 15));
  paint.push(tickMarks(p, "t", p.tTicks, p.tStep, [1, 0.03], 16, 24));
  paint.push(tickMarks(p, "h", p.hTicks, p.hStep, [-p.vx[0] / vxLen, -p.vx[1] / vxLen], 14, 20));

  new Chart(canvas, {
    type: "scatter",
    // the first dataset ends up on top, so the paint list goes in reversed
    data: { datasets: paint.reverse() },
    options: {
      responsive: false,
      animation: false,
      events: [],
      layout: { padding: 0 },
      plugins: { legend: { display: false }, tooltip: { enabled: false } },
      scales: {
        x: { type: "linear", display: false, min: left, max: left + w },
        y: { type: "linear", display: false, reverse: true, min: top, max: top + h },
      },
    },
  });

  p.xTicks.forEach((v, i) => addLabel(String(v), p.xPos[i], p.fs));
  p.tTicks.forEach((v, i) => addLabel(String(v), p.tPos[i], p.fs));
  p.hTicks.forEach((v, i) => addLabel(String(v), p.hPos[i], p.fs));
  addLabel("h(x,t)", p.hName, p.hfs);
  addLabel("x", p.xName, p.hfs);
  addLabel("t", p.tName, p.hfs);
});

captionTags.forEach((tag, i) => {
  addLabel(tag, captionTagPos[i], null, "cap");
  const el = addLabel("", captionAlphaPos[i], null, "cap");
  const a = document.createElement("i");
  a.textContent = "α";
  el.appendChild(a);
  el.appendChild(document.createTextNode(" = "));
  const value = captionAlpha[i];
  if (value[0] === "−") {
    const m = document.createElement("span");
    m.className = "minus";
    m.textContent = "−";
    el.appendChild(m);
    el.appendChild(document.createTextNode(value.slice(1)));
  } else {
    el.appendChild(document.createTextNode(value));
  }
});
</script>
</body>
</html>
